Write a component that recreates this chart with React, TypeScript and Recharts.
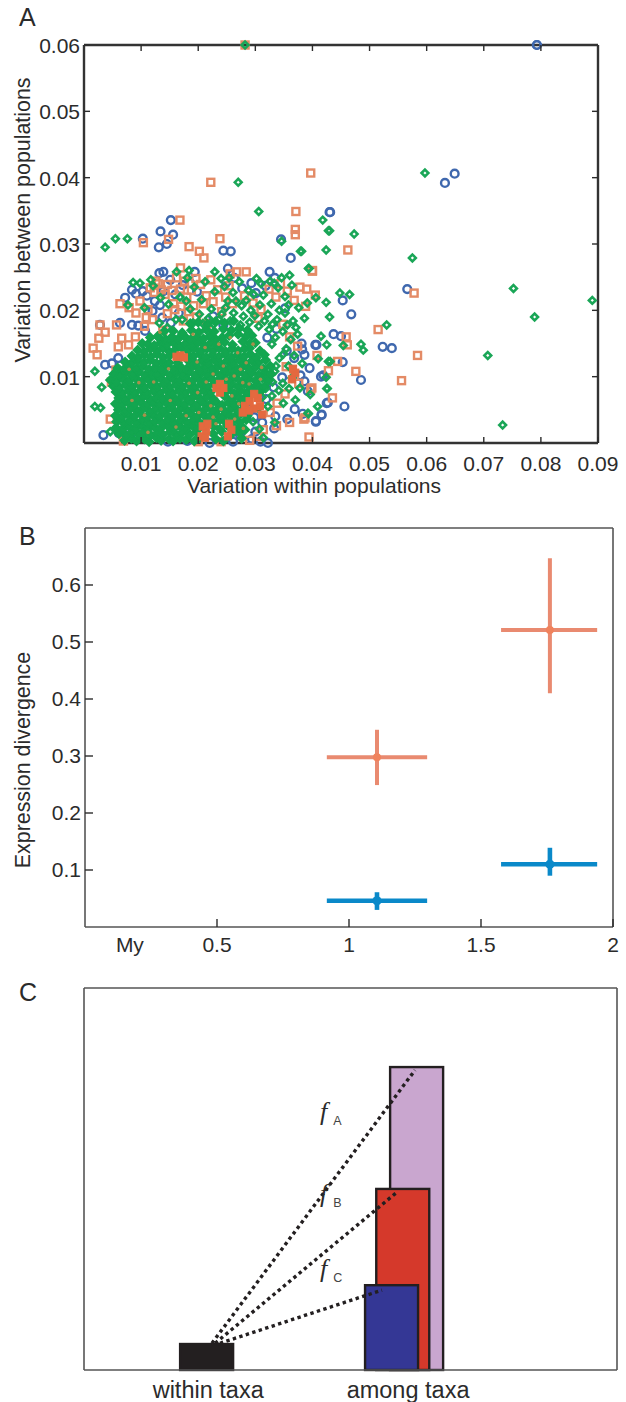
import { Bar, BarChart, Cell, ErrorBar, ReferenceLine, Scatter, ScatterChart, XAxis, YAxis } from "recharts";

const FONT = "'Liberation Sans', Arial, sans-serif";
const INK = "#2b2b2b";

// Panel A, all values read in thousandths
const bluePoints = [
  [79.3, 60], [64.9, 40.6], [63.2, 39.2], [43.1, 34.8], [56.6, 23.2], [45.3, 21.5], [46.8, 19.4], [52.3, 14.5], [53.9, 14.3], [45.3, 12.2],
  [48.5, 9.5], [45.6, 5.5], [42.7, 6.1], [41.6, 4.3], [40.6, 3.3], [45, 16.1], [43.7, 16.4], [40.5, 14.8], [41.5, 10], [10.3, 30.8],
  [13.4, 31.9], [15.6, 31.4], [15.2, 33.6], [13.1, 29.5], [14.5, 30], [19.4, 25.8], [13.9, 25.8], [13.2, 25.6], [34.5, 30.7], [36.2, 27.9],
  [24.4, 29], [25.7, 28.9], [25.2, 26.3], [32.5, 25.8], [43, 34.8], [3.4, 1.2], [2.8, 17.8], [6.3, 18.1], [8.4, 17.8], [3.7, 11.8],
  [4.9, 12], [6, 12.8], [40.7, 14.8], [38.1, 15], [38.6, 13.3], [41.9, 10.2], [41.6, 4.2], [40.6, 3.2], [42.5, 6], [33.5, 4],
  [30, 1.7], [32.2, 0], [22, 0], [7.2, 21.9], [8.4, 23.1], [9.1, 22.5], [10.3, 22.9], [11, 22.2], [12.4, 21.4], [13.3, 20.8],
  [13.9, 22.9], [15.1, 24.6], [16, 22.4], [17.3, 23.8], [18.6, 24.1], [19.8, 22.8], [12, 19.9], [13.7, 18.9], [15.2, 18.1], [16.6, 19.6],
  [9.5, 17.7], [10.7, 16.9], [24.9, 24.2], [26.3, 24.9], [27.7, 23.3], [29.3, 24.1], [30.1, 22.6], [31.8, 23.7], [33.4, 24.9], [22.6, 19.1],
  [24.4, 17.8], [32.1, 15.9], [33.7, 17.2], [35.5, 13.9], [36.8, 12.8], [38.2, 14.1], [39.5, 11.3], [37.9, 10.2], [38.6, 9.3], [39.2, 7.8],
  [34.7, 9.9], [33.2, 8.4], [31.9, 6.6], [30.6, 7.6], [28.9, 5.1], [29.8, 3.9], [31.2, 3.1], [33.3, 2.2], [35.6, 3.6], [36.9, 5.1],
  [38.3, 4.4], [27.3, 1.3], [29.4, 0.6], [26.1, 0.2], [18.1, 0.3], [14.7, 0.2], [8.3, 1.4], [6.1, 1.5], [30.9, 0.2], [35.2, 20.3],
];
const orangePoints = [
  [39.7, 40.7], [46.2, 29.1], [40, 25.9], [57.8, 22.6], [40.5, 22.3], [39, 23.2], [51.5, 17.1], [45.9, 16], [46.1, 14.8], [58.4, 13.2],
  [40.8, 13.2], [44.4, 12.3], [42.8, 10.9], [47.6, 10.8], [55.6, 9.4], [39.7, 8.1], [43.5, 6.8], [39.4, 0.9], [38.5, 3.6], [37.1, 34.9],
  [37, 32.2], [37, 31.4], [28.2, 60], [10.4, 30.2], [16.8, 33.6], [14.8, 30.7], [18.4, 29.6], [20.2, 28.9], [21, 27.9], [22.2, 39.3],
  [16.9, 26.4], [23.8, 30.8], [40, 26], [26.7, 25.8], [28.4, 25.8], [25.6, 25.5], [2.8, 17.8], [5.7, 17.8], [3.7, 16.7], [2.6, 15.8],
  [1.6, 14.3], [2.3, 13.3], [6, 14.5], [6.6, 15.8], [4.6, 3.6], [6.9, 0.3], [36, 3.1], [33.7, 2.6], [39.9, 8.3], [38.7, 3.8],
  [6.3, 21], [7.9, 20.4], [9.8, 21.4], [11.2, 20.1], [12.6, 24.4], [13.5, 23.1], [14.2, 22.4], [15.7, 21], [16.9, 23.2], [18, 22], [19.2, 20.7],
  [20.4, 23.9], [21.4, 22.2], [22.2, 24.6], [23.4, 23.1], [24.8, 22], [26, 21], [28.1, 22.2], [29.6, 21.1], [31, 20.1], [32.4, 23.2],
  [33.6, 22], [34.4, 24], [35.6, 22.9], [36.8, 21.5], [37.8, 23.5], [38.8, 20.6], [34.8, 17.9], [36, 16], [37.4, 14.6], [35.4, 11.5],
  [36.8, 10.1], [37.6, 9], [35.2, 7.4], [33.8, 6], [32.6, 4.6], [31.4, 2], [30.4, 1], [29, 0.4], [24, 0.2], [20, 0.2],
  [12, 18.6], [13.8, 17], [17.4, 18.4], [19.7, 19], [21.5, 18], [7.8, 14.8], [9, 16], [10.6, 17.6], [5.6, 11], [4.8, 9.2],
  [11.6, 23.4], [12.3, 22.7], [13, 24], [14.6, 23.9], [15.4, 23], [16.2, 24.9], [17.6, 24.4], [18.8, 23], [19.6, 24.8], [20.9, 21],
  [14.6, 19.5], [15.9, 20.1], [17, 20.6], [18.3, 19.8], [10.9, 18.9], [9.1, 19.6], [22.6, 21.3], [24.1, 19.8], [25.4, 23.7], [30.5, 18.8],
];
const greenPoints = [
  [59.7, 40.7], [41.8, 33.6], [43, 32], [47.3, 31.5], [42.4, 29.1], [38.1, 28.9], [57.5, 27.9], [39.4, 26.3], [75.2, 23.3], [89, 21.5],
  [44.8, 22.6], [46.5, 22.4], [40.6, 21.9], [42.4, 21.2], [39.1, 21.1], [43, 19], [78.9, 19], [53, 17.8], [48.5, 14.9], [48.9, 14],
  [70.7, 13.2], [41.5, 16.1], [42.5, 14.8], [45.4, 14.7], [43.1, 12.3], [41, 12.7], [42.4, 9.9], [42.6, 8.2], [39.6, 7.3], [40.9, 5.5],
  [39.3, 4.4], [73.3, 2.7], [28.2, 60], [3.7, 29.5], [5.5, 30.8], [7.6, 30.8], [16.2, 25.8], [18.4, 26], [27, 39.3], [30.6, 34.9],
  [34.6, 30.4], [37.9, 28.9], [42.8, 32], [39.3, 26.3], [22.9, 25.8], [1.9, 10.8], [3.1, 8.4], [1.9, 5.5], [2.9, 5.3], [4.6, 1.7],
  [6.3, 7.2], [42.5, 8.2], [37.8, 8.3], [37, 6.5], [39.2, 4.5], [34.9, 6], [32.2, 5.5], [31.4, 0.8], [42.8, 12.3], [36.4, 9.8],
  [8.6, 24.2], [7.7, 20.8], [12.1, 23.7], [16.8, 22], [13.4, 21.9], [20.6, 21.6], [22.3, 20.2], [24.6, 23.6], [26.1, 22.7], [27.2, 24.3],
  [28.8, 23], [30.2, 24.8], [31.4, 22.3], [32.8, 21], [34, 23.4], [35.2, 22.1], [36.4, 23.8], [37.6, 20.4], [38.6, 18.8], [36.6, 18.4],
  [35.2, 19.6], [33.8, 18.6], [32.2, 19.4], [30.8, 20.8], [29.2, 20], [27.6, 20.7], [26.2, 19.6], [24.8, 20.4], [23.6, 18.6], [21.8, 18.8],
  [20.2, 19.4], [18.6, 20.2], [17.2, 18.6], [25.6, 18.4], [27.4, 17.8], [29, 18.2], [30.6, 17.6], [34.8, 16.8], [36.2, 15.6], [37.4, 16.4],
  [35.4, 14.2], [36.8, 13.2], [38.2, 12], [34.2, 12.8], [35.8, 11.6], [33.4, 10.8], [34.8, 9], [33, 9.2], [31.8, 8.2],
  [19.1, 18.1], [20.8, 18], [22.7, 17.9], [24.1, 19.4], [25.2, 21.4], [26.6, 21.4], [27.9, 19.1], [28.4, 21.5], [29.9, 19.2], [31.6, 18.4],
  [33, 17.9], [34.2, 20], [35.8, 20.8], [33.5, 15.9], [32.4, 17.1], [32.9, 14.9], [34.9, 13.4], [35.6, 17.8], [37.1, 17.4], [33.6, 11.6],
  [32.7, 10.4], [31.9, 9.9], [31.2, 6.9], [30.5, 5.2], [29.6, 3.2], [32.9, 7.1], [34.1, 7.9], [35.9, 8.2], [33.4, 3.1], [30.7, 2.1],
  [13.2, 18.1], [14.6, 17.4], [10.6, 20.4], [11.7, 24.6], [9.8, 24.1], [14.8, 20.9], [16.1, 18.6], [17.9, 21.4], [19.3, 23.5], [18.1, 24.9],
  [21.2, 24.3], [22.9, 22.8], [24, 24.8], [25.4, 24.9], [29.7, 22.4], [31, 24], [32.6, 24.4], [33.3, 24.1], [34.6, 24.9], [36, 25.3],
];
const greenDense = [
  [7.1, 0.4], [8.3, 0.7], [9.2, 0.3], [10.6, 0.6], [11.4, 0.2], [12.7, 0.8], [13.5, 0.4], [14.9, 0.6], [15.6, 0.3], [16.8, 0.7], [17.9, 0.5], [19.3, 0.3], [20.2, 0.8], [23.1, 0.6], [24.4, 0.3], [27.6, 0.7],
  [6.1, 1.4], [7.3, 1.2], [8.4, 1.6], [9.6, 1.3], [10.5, 1.7], [11.7, 1.2], [12.9, 1.5], [13.8, 1.3], [15.1, 1.7], [16.2, 1.2], [17.2, 1.6], [18.5, 1.3], [19.6, 1.7], [22.6, 1.4], [24.1, 1.7], [25.7, 1.2], [27.2, 1.6],
  [5.6, 2.3], [6.8, 2.1], [7.9, 2.5], [9, 2.2], [10.1, 2.6], [11.2, 2.1], [12.3, 2.4], [13.4, 2.2], [14.6, 2.6], [15.7, 2.1], [16.8, 2.5], [17.9, 2.2], [19, 2.6], [20.1, 2.2], [22.7, 2.5], [23.8, 2.1], [25.1, 2.6], [26.4, 2.2], [27.6, 2.5], [28.2, 2],
  [5.7, 3.2], [6.9, 3], [8, 3.4], [9.1, 3.1], [10.3, 3.5], [11.4, 3], [12.5, 3.3], [13.6, 3.1], [14.7, 3.5], [15.8, 3], [16.9, 3.4], [18, 3.1], [19.2, 3.5], [20.3, 3], [21.5, 3.4], [22.7, 3.1], [23.8, 3.5], [24.9, 3], [26, 3.4], [27.2, 3.1], [28.4, 3.5],
  [5.5, 4.1], [6.6, 3.9], [7.7, 4.3], [8.8, 4], [9.9, 4.4], [11, 3.9], [12.1, 4.2], [13.2, 4], [14.3, 4.4], [15.4, 3.9], [16.5, 4.3], [17.6, 4], [18.7, 4.4], [19.8, 3.9], [20.9, 4.3], [22, 4], [23.1, 4.4], [24.2, 3.9], [25.3, 4.3], [26.4, 4], [27.5, 4.4], [28.6, 4.1],
  [6, 5], [7.1, 4.8], [8.2, 5.2], [9.3, 4.9], [10.4, 5.3], [11.5, 4.8], [12.6, 5.1], [13.7, 4.9], [14.8, 5.3], [15.9, 4.8], [17, 5.2], [18.1, 4.9], [19.2, 5.3], [20.3, 4.8], [21.4, 5.2], [22.5, 4.9], [23.6, 5.3], [24.7, 4.8], [25.8, 5.2], [26.9, 4.9], [28, 5.3],
  [5.5, 5.9], [6.6, 5.7], [7.7, 6.1], [8.8, 5.8], [9.9, 6.2], [11, 5.7], [12.1, 6], [13.2, 5.8], [14.3, 6.2], [15.4, 5.7], [16.5, 6.1], [17.6, 5.8], [18.7, 6.2], [19.8, 5.7], [20.9, 6.1], [22, 5.8], [23.1, 6.2], [24.2, 5.7], [25.3, 6.1], [26.4, 5.8], [27.5, 6.2],
  [6.1, 6.8], [7.2, 6.6], [8.3, 7], [9.4, 6.7], [10.5, 7.1], [11.6, 6.6], [12.7, 6.9], [13.8, 6.7], [14.9, 7.1], [16, 6.6], [17.1, 7], [18.2, 6.7], [19.3, 7.1], [20.4, 6.6], [21.5, 7], [22.6, 6.7], [24.6, 7.1], [25.8, 6.6], [26.9, 7], [28, 6.7], [29, 7.1],
  [5.6, 7.7], [6.7, 7.5], [7.8, 7.9], [8.9, 7.6], [10, 8], [11.1, 7.5], [12.2, 7.8], [13.3, 7.6], [14.4, 8], [15.5, 7.5], [16.6, 7.9], [17.7, 7.6], [18.8, 8], [19.9, 7.5], [21, 7.9], [22.1, 7.6], [25.2, 8], [26.3, 7.5], [27.4, 7.9], [28.5, 7.6], [29.6, 8], [30.8, 7.7],
  [5.1, 8.6], [6.2, 8.4], [7.3, 8.8], [8.4, 8.5], [9.5, 8.9], [10.6, 8.4], [11.7, 8.7], [12.8, 8.5], [13.9, 8.9], [15, 8.4], [16.1, 8.8], [17.2, 8.5], [18.3, 8.9], [19.4, 8.4], [20.5, 8.8], [21.6, 8.5], [22.7, 8.9], [24.8, 8.4], [25.9, 8.8], [27, 8.5], [28.1, 8.9], [29.2, 8.4], [30.4, 8.8], [31.6, 8.5],
  [4.6, 9.5], [5.7, 9.3], [6.8, 9.7], [7.9, 9.4], [9, 9.8], [10.1, 9.3], [11.2, 9.6], [12.3, 9.4], [13.4, 9.8], [14.5, 9.3], [15.6, 9.7], [16.7, 9.4], [17.8, 9.8], [18.9, 9.3], [20, 9.7], [21.1, 9.4], [22.2, 9.8], [23.3, 9.3], [24.4, 9.7], [25.5, 9.4], [26.6, 9.8], [27.7, 9.3], [28.8, 9.7], [30, 9.4], [31.2, 9.8], [32.3, 9.4],
  [5.2, 10.4], [6.3, 10.2], [7.4, 10.6], [8.5, 10.3], [9.6, 10.7], [10.7, 10.2], [11.8, 10.5], [12.9, 10.3], [14, 10.7], [15.1, 10.2], [16.2, 10.6], [17.3, 10.3], [18.4, 10.7], [19.5, 10.2], [20.6, 10.6], [21.7, 10.3], [22.8, 10.7], [23.9, 10.2], [25, 10.6], [26.1, 10.3], [27.2, 10.7], [28.3, 10.2], [29.4, 10.6], [30.6, 10.3], [31.8, 10.6], [32.8, 10.4],
  [5.9, 11.3], [7, 11.1], [8.1, 11.5], [9.2, 11.2], [10.3, 11.6], [11.4, 11.1], [12.5, 11.4], [13.6, 11.2], [14.7, 11.6], [15.8, 11.1], [16.9, 11.5], [18, 11.2], [19.1, 11.6], [20.2, 11.1], [21.3, 11.5], [22.4, 11.2], [23.5, 11.6], [24.6, 11.1], [25.7, 11.5], [26.8, 11.2], [27.9, 11.6], [29, 11.1], [30.1, 11.5], [31.4, 11.2], [32.6, 11.6],
  [7.2, 12.2], [8.3, 12], [9.4, 12.4], [10.5, 12.1], [11.6, 12.5], [12.7, 12], [13.8, 12.3], [14.9, 12.1], [16.4, 12.1], [18.4, 12.3], [19.5, 12], [20.6, 12.4], [21.7, 12.1], [22.8, 12.5], [23.9, 12], [25, 12.4], [26.1, 12.1], [27.2, 12.5], [28.3, 12], [29.4, 12.4], [30.5, 12.1], [31.8, 12.5],
  [8.4, 13.1], [9.5, 12.9], [10.6, 13.3], [11.7, 13], [12.8, 13.4], [13.9, 12.9], [15, 13.2], [18.6, 13], [19.2, 13.1], [20.3, 13.4], [21.4, 12.9], [22.5, 13.3], [23.6, 13], [24.7, 13.4], [25.8, 12.9], [26.9, 13.3], [28, 13], [29.1, 13.4], [30.2, 12.9], [31.6, 13.3],
  [9.4, 14], [10.5, 13.8], [11.6, 14.2], [12.7, 13.9], [13.8, 14.3], [14.9, 13.8], [16, 14.1], [17.1, 14.4], [18.2, 13.9], [19.3, 14.3], [20.4, 13.8], [21.5, 14.2], [22.6, 13.9], [23.7, 14.3], [24.8, 13.8], [25.9, 14.2], [27, 13.9], [28.1, 14.2], [29, 14.3], [30.8, 13.9],
  [10.2, 15], [11.2, 14.9], [12.3, 14.7], [13.4, 15.1], [14.5, 14.8], [15.6, 15.2], [16.7, 14.7], [17.8, 15], [18.9, 14.8], [20, 15.2], [21.1, 14.7], [22.2, 15.1], [23.3, 14.8], [24.6, 15.2], [26, 14.8], [27.8, 15.3], [29, 15], [30, 15.1],
  [11.6, 15.9], [12.9, 16.1], [13.2, 15.8], [14.3, 15.6], [15.4, 16], [16.5, 15.7], [17.6, 16.1], [18.7, 15.6], [19.8, 15.9], [20.9, 15.7], [22, 16.1], [23.1, 15.6], [24.2, 15.9], [25.4, 16.2], [27, 16.4], [28.4, 16.1], [29.4, 16.2],
  [14, 16.8], [15.6, 16.9], [17.2, 16.6], [18.8, 17], [20.1, 16.7], [21.4, 17.1], [22.8, 16.8], [24.4, 17.2], [25.8, 17], [27.2, 17.3], [28.6, 17],
  [18.6, 18], [20, 18.2], [21.6, 17.9], [23, 18.3], [24.6, 18.1], [26.2, 18.4],
];
// orange that lies over the green mass
const orangePatches = [
  [16.2, 13], [16.9, 13.2], [17.5, 12.9], [23.2, 8.3], [23.8, 7.6], [23.8, 8.9], [24.4, 8.3], [28.2, 5.6], [29, 6.3], [29.7, 5.2],
  [30.4, 6.8], [28.9, 4.9], [20.6, 1], [21.4, 1.8], [21.2, 0.8], [20.8, 2.5], [21.6, 2.9], [25.2, 1], [25.8, 2], [25.4, 2.9],
  [36.4, 9.6], [37, 10.6], [36.6, 11.2], [29.8, 7.4], [30.8, 5.6], [27.8, 4.6], [31.2, 4.3],
];
const orangeSpecks = [
  [13.3, 16.7], [19.8, 12.2], [27.9, 2.2], [24, 5.1], [15.1, 6.4], [10.6, 4.2], [18.4, 9], [26.3, 10.1], [30.9, 9.6], [21.2, 14.4],
  [24.4, 11.6], [27.8, 9.1], [12.2, 9.2], [8.4, 6.4], [17.9, 4.1], [22.2, 5.6], [26.9, 13.6], [19.9, 7.6], [14.8, 11.2], [7.9, 11.1],
  [23.1, 2.9], [28.4, 12.1], [11.2, 1.6], [16.1, 2.4], [29.6, 14.9], [25.6, 15.9], [22.6, 10.4], [9.6, 9.1], [25.9, 7.1], [27.1, 5.9],
  [22.6, 3.9], [20.1, 4.6], [26.4, 3.6], [24.9, 9.6], [21.4, 9.2], [28.9, 8.9], [31.1, 11.4], [27.4, 11.1], [23.6, 14.9], [19.1, 16.4],
];
const xTicksA = [0.01, 0.02, 0.03, 0.04, 0.05, 0.06, 0.07, 0.08, 0.09];
const yTicksA = [0.01, 0.02, 0.03, 0.04, 0.05, 0.06];

// Panel B
const divergenceBetween = [
  { x: 1.106, y: 0.298, xErr: [0.19, 0.19], yErr: [0.049, 0.048] },
  { x: 1.761, y: 0.521, xErr: [0.185, 0.179], yErr: [0.111, 0.126] },
];
const divergenceWithin = [
  { x: 1.106, y: 0.046, xErr: [0.19, 0.19], yErr: [0.016, 0.015] },
  { x: 1.761, y: 0.11, xErr: [0.185, 0.179], yErr: [0.02, 0.029] },
];
const MY_TICK = 0.17;
const xTicksB = [MY_TICK, 0.5, 1, 1.5, 2];
const yTicksB = [0.1, 0.2, 0.3, 0.4, 0.5, 0.6];

// Panel C
const taxaPositions = [23, 62.4, 59.8, 57.7];
const taxaHeights = [0.068, 0.793, 0.474, 0.222];
const taxaFills = ["#231f20", "#c9a6cf", "#d5392b", "#343795"];
const taxaTicks = [23.3, 60.8];
const taxaLabels = ["within taxa", "among taxa"];
const dottedEnds = [
  [24, 0.07, 62.1, 0.785],
  [24.6, 0.07, 58.5, 0.463],
  [25.5, 0.07, 55.9, 0.209],
];

const toPoints = (list: number[][]) => list.map(([x, y]) => ({ x: x / 1000, y: y / 1000 }));

const ringShape = (p: any) => <circle cx={p.cx} cy={p.cy} r={3.9} fill="none" stroke="#3f68ae" strokeWidth={2.4} />;
const squareShape = (p: any) => <rect x={p.cx - 3.5} y={p.cy - 3.5} width={7} height={7} fill="none" stroke="#e48b66" strokeWidth={2.4} />;
const diamondPath = (p: any, r: number) => `M${p.cx - r} ${p.cy}L${p.cx} ${p.cy - r}L${p.cx + r} ${p.cy}L${p.cx} ${p.cy + r}Z`;
const diamondShape = (p: any) => <path d={diamondPath(p, 3.4)} fill="none" stroke="#1aa657" strokeWidth={2.6} />;
const denseShape = (p: any) => <path d={diamondPath(p, 4.4)} fill="#13a650" stroke="#13a650" strokeWidth={1.6} />;
const patchShape = (p: any) => <rect x={p.cx - 3.6} y={p.cy - 3.6} width={7.2} height={7.2} fill="#e4693f" stroke="#e4693f" />;
const speckShape = (p: any) => <circle cx={p.cx} cy={p.cy} r={1.8} fill="#a98f4c" />;

function Tick(props: any) {
  const { x, y, payload, side, len, fontSize, format, noMark, labelDy } = props;
  const mark = len === 0 || noMark === payload.value ? null : side === "bottom" ? (
    <line x1={x} x2={x} y1={y} y2={y - len} stroke={INK} strokeWidth={1.4} />
  ) : side === "top" ? (
    <line x1={x} x2={x} y1={y} y2={y + len} stroke={INK} strokeWidth={1.4} />
  ) : side === "left" ? (
    <line x1={x} x2={x + len} y1={y} y2={y} stroke={INK} strokeWidth={1.4} />
  ) : (
    <line x1={x} x2={x - len} y1={y} y2={y} stroke={INK} strokeWidth={1.4} />
  );
  return (
    <g>
      {mark}
      {side === "bottom" && format && (
        <text x={x} y={y + labelDy} textAnchor="middle" fontSize={fontSize} fontFamily={FONT} fill={INK}>
          {format(payload.value)}
        </text>
      )}
      {side === "left" && format && (
        <text x={x - 4} y={y + (labelDy ?? 7)} textAnchor="end" fontSize={fontSize} fontFamily={FONT} fill={INK}>
          {format(payload.value)}
        </text>
      )}
    </g>
  );
}

const panelLetter = (text: string, top: number) => (
  <div style={{ position: "absolute", left: 19, top, fontFamily: FONT, fontSize: 25, lineHeight: "28px", color: INK }}>{text}</div>
);

const fLabel = (sub: string, left: number, top: number) => (
  <div style={{ position: "absolute", left, top, height: 30, whiteSpace: "nowrap", color: INK }}>
    <span style={{ fontFamily: "'Liberation Serif', serif", fontStyle: "italic", fontSize: 26 }}>f</span>
    <span style={{ fontFamily: FONT, fontSize: 12.5, marginLeft: 6, color: "#444", position: "relative", top: 5 }}>{sub}</span>
  </div>
);

const axisTitle = (text: string, x: number, y: number) => (
  <div style={{ position: "absolute", left: x, top: y, transform: "translate(-50%,-50%) rotate(-90deg)", fontFamily: FONT, fontSize: 21.4, color: INK, whiteSpace: "nowrap" }}>
    {text}
  </div>
);

function PanelA() {
  const stroke = { stroke: "#333", strokeWidth: 2.4 };
  const fmt = (v: number) => v.toFixed(2);
  return (
    <ScatterChart width={626} height={510} margin={{ top: 44, right: 27, bottom: 7, left: 0 }} style={{ position: "absolute", left: 0, top: 0 }}>
      <XAxis xAxisId="b" type="number" dataKey="x" domain={[0, 0.09]} ticks={xTicksA} height={60} axisLine={stroke} tickLine={false} tickSize={0} tickMargin={0} interval={0}
        tick={<Tick side="bottom" len={6} fontSize={21} labelDy={28} format={fmt} />} />
      <XAxis xAxisId="t" orientation="top" type="number" dataKey="x" domain={[0, 0.09]} ticks={xTicksA.slice(0, 8)} height={1} axisLine={stroke} tickLine={false} tickSize={0} tickMargin={0} interval={0}
        tick={<Tick side="top" len={6} />} />
      <YAxis yAxisId="l" type="number" dataKey="y" domain={[0, 0.06]} ticks={yTicksA} width={84} axisLine={stroke} tickLine={false} tickSize={0} tickMargin={0} interval={0}
        tick={<Tick side="left" len={6} fontSize={21} labelDy={8} format={fmt} />} />
      <YAxis yAxisId="r" orientation="right" type="number" dataKey="y" domain={[0, 0.06]} ticks={yTicksA.slice(0, 5)} width={1} axisLine={stroke} tickLine={false} tickSize={0} tickMargin={0} interval={0}
        tick={<Tick side="right" len={6} />} />
      {/* keeps the top and right axes linked, so they draw their ticks */}
      <Scatter xAxisId="t" yAxisId="r" data={toPoints([[79.3, 60]])} shape={ringShape} isAnimationActive={false} />
      <Scatter xAxisId="b" yAxisId="l" data={toPoints(bluePoints)} shape={ringShape} isAnimationActive={false} />
      <Scatter xAxisId="b" yAxisId="l" data={toPoints(orangePoints)} shape={squareShape} isAnimationActive={false} />
      <Scatter xAxisId="b" yAxisId="l" data={toPoints(greenPoints)} shape={diamondShape} isAnimationActive={false} />
      <Scatter xAxisId="b" yAxisId="l" data={toPoints(greenDense)} shape={denseShape} isAnimationActive={false} />
      <Scatter xAxisId="b" yAxisId="l" data={toPoints(orangeSpecks)} shape={speckShape} isAnimationActive={false} />
      <Scatter xAxisId="b" yAxisId="l" data={toPoints(orangePatches)} shape={patchShape} isAnimationActive={false} />
    </ScatterChart>
  );
}

function PanelB() {
  const frame = { stroke: "#555", strokeWidth: 1.6 };
  const fmtX = (v: number) => (v === MY_TICK ? "My" : String(v));
  return (
    <ScatterChart width={626} height={470} margin={{ top: 27, right: 12, bottom: 3, left: 0 }} style={{ position: "absolute", left: 0, top: 500 }}>
      <XAxis xAxisId="b" type="number" dataKey="x" domain={[0, 2]} ticks={xTicksB} height={40} axisLine={frame} tickLine={false} tickSize={0} tickMargin={0} interval={0}
        tick={<Tick side="bottom" len={8} fontSize={21} labelDy={25} format={fmtX} noMark={MY_TICK} />} />
      <XAxis xAxisId="t" orientation="top" type="number" domain={[0, 2]} ticks={[]} height={1} axisLine={frame} tickLine={false} tick={false} />
      <YAxis yAxisId="l" type="number" dataKey="y" domain={[0, 0.7]} ticks={yTicksB} width={85} axisLine={frame} tickLine={false} tickSize={0} tickMargin={0} interval={0}
        tick={<Tick side="left" len={8} fontSize={21} format={(v: number) => v.toFixed(1)} />} />
      <YAxis yAxisId="r" orientation="right" type="number" domain={[0, 0.7]} ticks={[]} width={1} axisLine={frame} tickLine={false} tick={false} />
      <Scatter xAxisId="b" yAxisId="l" data={divergenceBetween} fill="#f0825c" shape={(p: any) => <circle cx={p.cx} cy={p.cy} r={4} fill="#f0825c" />} isAnimationActive={false}>
        <ErrorBar dataKey="xErr" direction="x" width={0} stroke="#e98a70" strokeWidth={4} isAnimationActive={false} />
        <ErrorBar dataKey="yErr" direction="y" width={0} stroke="#e98a70" strokeWidth={4} isAnimationActive={false} />
      </Scatter>
      <Scatter xAxisId="b" yAxisId="l" data={divergenceWithin} fill="#0a89c9" shape={(p: any) => <circle cx={p.cx} cy={p.cy} r={4.6} fill="#0a89c9" />} isAnimationActive={false}>
        <ErrorBar dataKey="xErr" direction="x" width={0} stroke="#0a89c9" strokeWidth={4.6} isAnimationActive={false} />
        <ErrorBar dataKey="yErr" direction="y" width={0} stroke="#0a89c9" strokeWidth={4.6} isAnimationActive={false} />
      </Scatter>
    </ScatterChart>
  );
}

// the numeric axis squeezes the band, so the drawn width is set here around the bar centre
const taxaBar = (p: any) => (
  <rect x={p.x + p.width / 2 - 26.5} y={p.y} width={53} height={p.height} fill={p.fill} stroke="#231f20" strokeWidth={2.4} />
);

function PanelC() {
  const frame = { stroke: "#555", strokeWidth: 1.6 };
  const rows = taxaPositions.map((pos, i) => ({ pos, height: taxaHeights[i] }));
  return (
    <BarChart width={626} height={432} data={rows} margin={{ top: 7, right: 8, bottom: 2, left: 0 }} style={{ position: "absolute", left: 0, top: 980 }}>
      <XAxis xAxisId="b" type="number" dataKey="pos" domain={[0, 100]} ticks={taxaTicks} height={40} axisLine={frame} tickLine={false} tickSize={0} tickMargin={0} interval={0}
        tick={<Tick side="bottom" len={0} fontSize={23.5} labelDy={28} format={(v: number) => taxaLabels[taxaTicks.indexOf(v)]} />} />
      <XAxis xAxisId="t" orientation="top" type="number" domain={[0, 100]} ticks={[]} height={1} axisLine={frame} tickLine={false} tick={false} />
      <YAxis yAxisId="l" type="number" domain={[0, 1]} ticks={[]} width={84} axisLine={frame} tickLine={false} tick={false} />
      <YAxis yAxisId="r" orientation="right" type="number" domain={[0, 1]} ticks={[]} width={1} axisLine={frame} tickLine={false} tick={false} />
      <Bar xAxisId="b" yAxisId="l" dataKey="height" shape={taxaBar} isAnimationActive={false}>
        {taxaFills.map((fill, i) => (
          <Cell key={i} fill={fill} />
        ))}
      </Bar>
      {dottedEnds.map(([x1, y1, x2, y2], i) => (
        <ReferenceLine key={i} xAxisId="b" yAxisId="l" segment={[{ x: x1, y: y1 }, { x: x2, y: y2 }]} stroke="#231f20" strokeWidth={3.4} strokeDasharray="3.4 3.4" ifOverflow="visible" />
      ))}
    </BarChart>
  );
}

export default function App() {
  return (
    <div style={{ position: "absolute", left: 0, top: 0, width: 626, height: 1402, background: "#fff", overflow: "hidden" }}>
      <PanelA />
      <PanelB />
      <PanelC />
      {panelLetter("A", 3)}
      {panelLetter("B", 522)}
      {panelLetter("C", 978)}
      {axisTitle("Variation between populations", 23, 220)}
      {axisTitle("Expression divergence", 23, 760)}
      <div style={{ position: "absolute", left: 314, top: 486, transform: "translate(-50%,-50%)", fontFamily: FONT, fontSize: 21, color: INK, whiteSpace: "nowrap" }}>
        Variation within populations
      </div>
      {fLabel("A", 320, 1097)}
      {fLabel("B", 320, 1179)}
      {fLabel("C", 320, 1254)}
    </div>
  );
}
